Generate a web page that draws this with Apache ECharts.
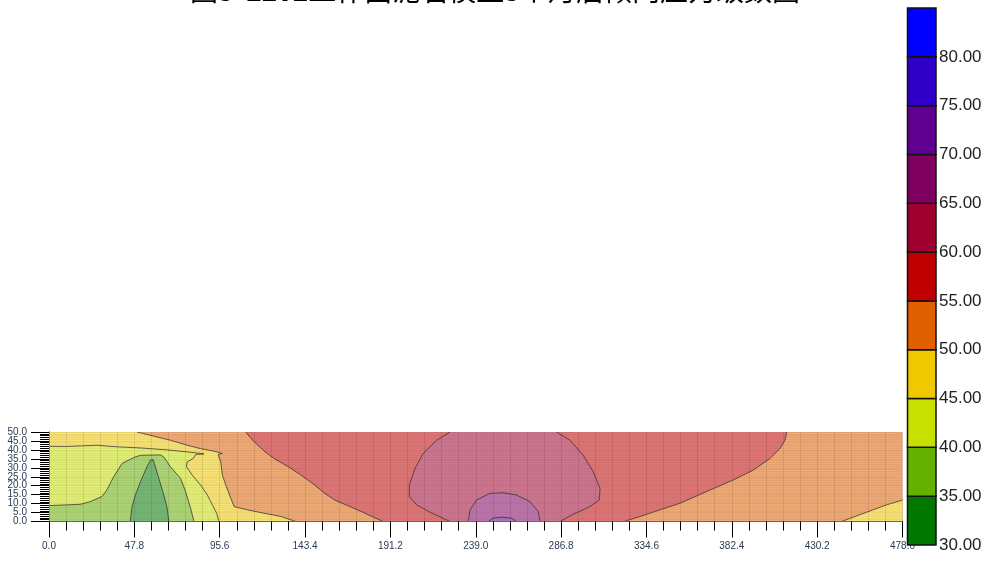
<!DOCTYPE html>
<html><head><meta charset="utf-8">
<script src="https://cdn.jsdelivr.net/npm/echarts@6/dist/echarts.min.js"></script>
<style>html,body{margin:0;padding:0;background:#fff}#c{width:990px;height:561px}</style>
</head><body><div id="c"></div>
<script>
// ---------- data ----------
const titleText = '图3  2202工作面泥岩模型3个月后倾向应力级数图';
const xMin = 0, xMax = 478, xStep = 47.8;
const yMin = 0, yMax = 50, yStep = 5;
const levels = [30, 35, 40, 45, 50, 55, 60, 65, 70, 75, 80, 85];
const levelColors = ['#007800', '#66b000', '#c8e000', '#f0c800', '#e06000', '#c00000', '#a00030', '#800060', '#600090', '#3000c8', '#0000ff'];

// contour lines, [x, y] in data units
const contour50Left = [[49.3,50],[53,49.1],[60.5,47.2],[68,45.4],[77.4,42.6],[84.9,40.7],[92.4,39.3],[97.1,38],[94.7,37.4],[96.2,33.3],[97.1,25.9],[99,20.4],[101.8,13],[103.7,8.3],[111.2,6.5],[120.5,4.6],[129.9,2.8],[138.3,0]];
const contour45Left = [[0,42],[9.9,41.9],[26.8,42.6],[38.1,41.7],[51.2,41.1],[66.2,40],[77.4,38.9],[86.8,37.8],[82.1,37.4],[80.8,35.2],[77.4,33.3],[77,30.6],[80.2,25.9],[84.9,20.4],[88.7,14.8],[91.5,9.3],[93.9,4.6],[95.2,0]];
const contour40 = [[0,8.9],[9.9,9.3],[17.4,9.6],[23.1,11.1],[29.6,13.9],[32.4,17.6],[36.2,25],[40.9,32.4],[47.4,35.7],[51.2,37],[62.4,37.2],[64.3,36.1],[68,30.6],[73.7,24.1],[76.5,16.7],[79.3,7.4],[81.2,0]];
const contour35 = [[45.5,0],[46.5,8.3],[48.4,14.8],[51.2,22.2],[54.9,30.6],[56.8,34.3],[58.3,34.6],[59,32.4],[61.5,24.1],[64.3,14.8],[66.2,7.4],[67.1,0]];
const contour55Left = [[110.2,50],[113,46.5],[117,42.6],[121,38.9],[126,35.2],[134,30.6],[141,26],[148,21],[154,16],[160,12],[167,9],[175,5.5],[187,0]];
const contour55Right = [[322,0],[331,2.8],[342.2,6.5],[353.4,10.2],[368.3,16.7],[383.2,23.2],[394.4,28.7],[403.8,35.2],[409.4,40.8],[412.2,45.4],[413.1,50]];
const contour60Left = [[224.6,50],[217.1,45.4],[209.6,38],[205,29.7],[201.8,20.4],[201.8,13.9],[205.9,9.3],[213.4,5.2],[222.7,0.9],[224.6,0]];
const contour60Right = [[286.2,0],[293.6,4.1],[303,8.3],[308.2,12],[308.6,18.5],[304.8,27.8],[299.2,37],[291.8,45.4],[284.3,50]];
const contour65 = [[234.8,0],[235.8,6.5],[239.4,12],[246.9,15.7],[254.3,16.1],[261.8,14.8],[269.3,11.1],[274,5.6],[275,0]];
const contour70 = [[246,0],[248.8,1.9],[253.5,2.4],[259.1,1.9],[261.8,0]];
const contour50Right = [[443.9,0],[457.9,5.2],[469.1,9.3],[478,12]];

// ---------- build ----------
const corner = {bl:[xMin,yMin], br:[xMax,yMin], tr:[xMax,yMax], tl:[xMin,yMax]};
const regions = [
  {pts:[corner.bl, corner.br, corner.tr, corner.tl], lines:[], level:4},
  {pts:contour50Left.concat([corner.bl, corner.tl]), lines:[contour50Left], level:3},
  {pts:contour45Left.concat([corner.bl]), lines:[contour45Left], level:2},
  {pts:contour40.concat([corner.bl]), lines:[contour40], level:1},
  {pts:contour35, lines:[contour35], level:0},
  {pts:contour55Left.concat(contour55Right), lines:[contour55Left, contour55Right], level:5},
  {pts:contour60Left.concat(contour60Right), lines:[contour60Left, contour60Right], level:6},
  {pts:contour65, lines:[contour65], level:7},
  {pts:contour70, lines:[contour70], level:8},
  {pts:contour50Right.concat([corner.br]), lines:[contour50Right], level:3}
];
function pale(hex, a) {
  const n = parseInt(hex.slice(1), 16);
  const c = [(n >> 16) & 255, (n >> 8) & 255, n & 255].map(v => Math.round(a * v + (1 - a) * 255));
  return 'rgb(' + c.join(',') + ')';
}
const fillAlpha = 0.54;

const chart = echarts.init(document.getElementById('c'));
const labelFont = 'Liberation Sans';
const yLabelStyle = {fontSize: 10, color: '#2d3a55', margin: 22, fontFamily: labelFont};
chart.setOption({
  animation: false,
  title: {text: titleText, left: 'center', top: -29,
    textStyle: {fontSize: 28, fontWeight: 'normal', color: '#000', fontFamily: 'Noto Sans CJK SC'}},
  grid: [
    {left: 49, top: 432, width: 853.5, height: 89.5},
    {left: 907.5, top: 8, width: 28.5, height: 537}
  ],
  xAxis: [
    {type: 'value', gridIndex: 0, min: xMin, max: xMax, interval: xStep, z: 10,
      axisLine: {show: true, onZero: false, lineStyle: {color: '#000', width: 1}},
      axisTick: {show: true, length: 16, lineStyle: {color: '#000'}},
      minorTick: {show: true, splitNumber: 5, length: 9, lineStyle: {color: '#000'}},
      axisLabel: {formatter: v => v.toFixed(1), fontSize: 10, color: '#2d3a55', margin: 20, fontFamily: labelFont,
        showMinLabel: true, showMaxLabel: true, hideOverlap: false},
      splitLine: {show: true, lineStyle: {color: 'rgba(0,0,0,0.09)'}},
      minorSplitLine: {show: true, lineStyle: {color: 'rgba(0,0,0,0.09)'}}},
    {type: 'value', gridIndex: 0, position: 'top', min: xMin, max: xMax, z: 10,
      axisLine: {show: true, lineStyle: {color: '#666'}}, axisTick: {show: false}, axisLabel: {show: false}, splitLine: {show: false}},
    {type: 'value', gridIndex: 1, min: 0, max: 1, show: false}
  ],
  yAxis: [
    {type: 'value', gridIndex: 0, min: yMin, max: yMax, interval: yStep, z: 10,
      axisLine: {show: true, onZero: false, lineStyle: {color: '#000', width: 1}},
      axisTick: {show: true, length: 18, lineStyle: {color: '#000'}},
      minorTick: {show: true, splitNumber: 5, length: 9, lineStyle: {color: '#000'}},
      axisLabel: Object.assign({formatter: v => v.toFixed(1), showMinLabel: false, showMaxLabel: false, hideOverlap: false}, yLabelStyle),
      splitLine: {show: true, lineStyle: {color: 'rgba(0,0,0,0.05)'}},
      minorSplitLine: {show: true, lineStyle: {color: 'rgba(0,0,0,0.04)'}}},
    {type: 'value', gridIndex: 0, position: 'right', min: yMin, max: yMax, z: 10,
      axisLine: {show: true, lineStyle: {color: '#888'}}, axisTick: {show: false}, axisLabel: {show: false}, splitLine: {show: false}},
    {type: 'value', gridIndex: 1, position: 'right', min: levels[0], max: levels[levels.length - 1], interval: 5,
      axisLine: {show: false}, axisTick: {show: false}, splitLine: {show: false},
      axisLabel: {formatter: v => v.toFixed(2), showMinLabel: true, showMaxLabel: false, fontSize: 17, color: '#222', margin: 3, fontFamily: labelFont}},
    {type: 'value', gridIndex: 0, position: 'left', min: yMin, max: yMax, interval: yStep, z: 10,
      axisLine: {show: false}, axisTick: {show: false}, splitLine: {show: false},
      axisLabel: Object.assign({formatter: v => (v === yMin || v === yMax) ? v.toFixed(1) : '', showMinLabel: true, showMaxLabel: true, hideOverlap: false}, yLabelStyle)}
  ],
  series: [
    {type: 'custom', coordinateSystem: 'cartesian2d', xAxisIndex: 0, yAxisIndex: 0, z: 2, silent: true, clip: true,
      data: regions.map((r, i) => [i]),
      renderItem: function (params, api) {
        const r = regions[params.dataIndex];
        const children = [{type: 'polygon', shape: {points: r.pts.map(p => api.coord(p))},
          style: {fill: pale(levelColors[r.level], fillAlpha), stroke: null}}];
        r.lines.forEach(l => children.push({type: 'polyline', shape: {points: l.map(p => api.coord(p))},
          style: {fill: null, stroke: 'rgba(55,50,45,0.75)', lineWidth: 1}}));
        return {type: 'group', children: children};
      }},
    {type: 'custom', coordinateSystem: 'cartesian2d', xAxisIndex: 2, yAxisIndex: 2, z: 20, silent: true,
      data: levelColors.map((c, i) => [levels[i], levels[i + 1]]),
      renderItem: function (params, api) {
        const p0 = api.coord([0, api.value(0)]);
        const p1 = api.coord([1, api.value(1)]);
        return {type: 'rect', shape: {x: p0[0], y: p1[1], width: p1[0] - p0[0], height: p0[1] - p1[1]},
          style: {fill: levelColors[params.dataIndex], stroke: '#111', lineWidth: 1.5}};
      }}
  ]
});
</script>
</body></html>
